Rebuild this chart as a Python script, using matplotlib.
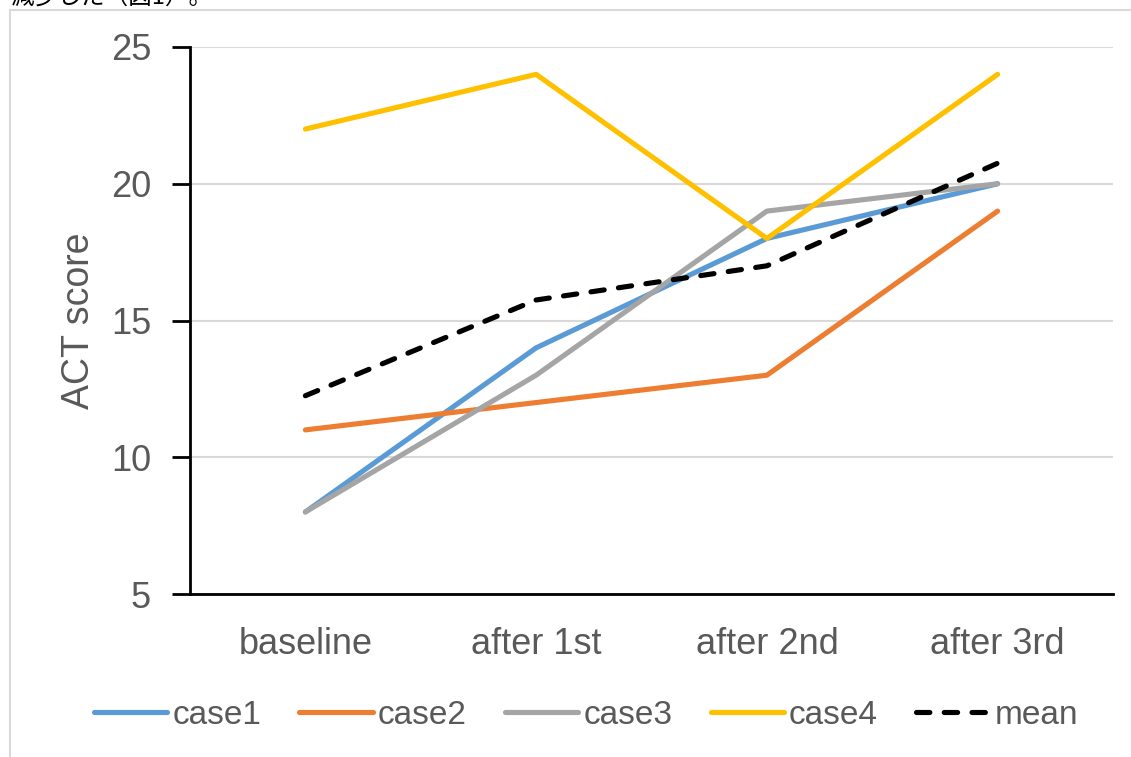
import matplotlib.pyplot as plt
from matplotlib.patches import Rectangle

categories = ['baseline', 'after 1st', 'after 2nd', 'after 3rd']
case1 = [8, 14, 18, 20]
case2 = [11, 12, 13, 19]
case3 = [8, 13, 19, 20]
case4 = [22, 24, 18, 24]
mean = [12.25, 15.75, 17, 20.75]
yticks = [5, 10, 15, 20, 25]

plt.rcParams['font.family'] = ['Liberation Sans', 'Noto Sans CJK JP', 'DejaVu Sans']
text_color = '#595959'

fig = plt.figure(figsize=(11.31, 7.57), dpi=100)
W, H = 1131, 757
ax = fig.add_axes([190 / W, 1 - 594 / H, (1113 - 190) / W, (594 - 47) / H])

# outer frame of the pasted chart (cropped)
fig.patches.append(Rectangle((10 / W, -0.1), 1.2, 1.1 - 10 / H, transform=fig.transFigure,
                             fill=False, edgecolor='#d9d9d9', linewidth=1.5))
fig.text(10 / W, 1 - 9 / H, '減少した（図1）。', fontsize=17, va='bottom', ha='left',
         color='black', family=['Noto Sans CJK JP', 'DejaVu Sans'])

x = range(len(categories))
lw = 3.7
ax.plot(x, case1, color='#5b9bd5', lw=lw, label='case1', solid_capstyle='round')
ax.plot(x, case2, color='#ed7d31', lw=lw, label='case2', solid_capstyle='round')
ax.plot(x, case3, color='#a5a5a5', lw=lw, label='case3', solid_capstyle='round')
ax.plot(x, case4, color='#ffc000', lw=lw, label='case4', solid_capstyle='round')
ax.plot(x, mean, color='black', lw=lw, ls=(0, (2.6, 2.8)), label='mean', dash_capstyle='round')

ax.set_xlim(-0.5, 3.5)
ax.set_ylim(5, 25)
ax.set_yticks(yticks)
ax.set_xticks(list(x))
ax.set_xticklabels(categories)
ax.yaxis.grid(True, color='#d9d9d9', lw=1.5)
ax.set_axisbelow(True)

for s in ['top', 'right']:
    ax.spines[s].set_visible(False)
ax.spines['left'].set_linewidth(2)
ax.spines['bottom'].set_linewidth(2)
ax.tick_params(axis='y', length=13, width=2, direction='out', labelsize=26, labelcolor=text_color, pad=15)
ax.tick_params(axis='x', length=0, labelsize=26, labelcolor=text_color, pad=24)
ax.set_ylabel('ACT score', fontsize=27, color=text_color, labelpad=10)

ax.legend(loc='center', bbox_to_anchor=(586 / W, 1 - 715 / H), bbox_transform=fig.transFigure,
          ncol=5, frameon=False, fontsize=24,
          labelcolor=text_color, handlelength=2.2, handletextpad=0.15, columnspacing=1.15)

fig.savefig('out.png', dpi=100)
